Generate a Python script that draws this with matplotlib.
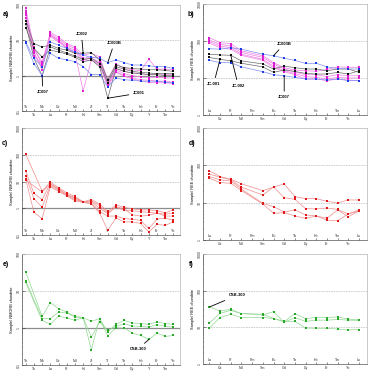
import numpy as np
import matplotlib.pyplot as plt

plt.rcParams['font.family'] = ['Liberation Sans', 'DejaVu Sans']

nan = np.nan

# elementos dos diagramas
morb_elements = ['Th', 'Ta', 'Nb', 'La', 'Ce', 'Pr', 'Nd', 'Hf', 'Zr', 'Sm',
                 'Ti', 'Gd', 'Tb', 'Dy', 'Ho', 'Y', 'Er', 'Tm', 'Yb']
ree_elements = ['La', 'Ce', 'Pr', 'Nd', 'Pm', 'Sm', 'Eu', 'Gd', 'Tb', 'Dy',
                'Ho', 'Er', 'Tm', 'Yb', 'Lu']

# --- a) N-MORB normalizado, grupo JC ---
a_m1 = [81, 6.5, 2.0, 17, 12.4, 8.1, 6.5, 3.8, 4.3, 3.4, 0.77, 2.2, 1.6, 1.47, 1.38, 2.9, 1.53, 1.53, 1.47]
a_m2 = [61, 5.3, 2.5, 15.3, 11.1, 7.3, 5.9, 3.1, 3.4, 3.1, 0.63, 1.6, 1.32, 1.19, 1.14, 1.07, 1.14, 1.07, 1.07]
a_m3 = [52, 4.3, 1.8, 14.3, 10.0, 6.5, 5.3, 2.8, 3.1, 2.5, 0.56, 1.47, 1.14, 1.0, 0.92, 0.86, 0.92, 0.86, 0.86]
a_m4 = [44, 3.6, 2.15, 12.9, 9.0, 6.2, 4.7, 2.5, 2.8, 2.2, 0.53, 1.32, 1.0, 0.86, 0.77, 0.74, 0.70, 0.70, 0.65]
a_m5 = [68, 4.7, 1.47, 13.8, 9.6, 5.9, 4.3, 0.37, 2.8, 2.0, 0.48, 1.24, 0.96, 0.81, 0.70, 0.65, 0.63, 0.63, 0.60]
a_jc002 = [36, 8.1, 6.5, 7.3, 5.9, 5.3, 4.3, 4.3, 4.5, 2.8, 0.77, 2.0, 1.7, 1.6, 1.53, 1.47, 1.47, 1.41, 1.32]
a_jc001 = [23, 5.9, 3.4, 5.3, 4.7, 4.1, 3.3, 2.5, 2.8, 1.8, 0.23, 1.6, 1.32, 1.19, 1.14, 1.07, 1.07, 1.0, 1.0]
a_jc007 = [29, 3.1, 1.0, 6.5, 5.3, 4.4, 3.6, 2.9, 3.1, 2.2, 0.63, 1.8, 1.53, 1.32, 1.24, 1.19, 1.14, 1.14, 1.14]
a_jc003b = [9.0, 3.1, 1.8, 9.0, 7.3, 5.9, 4.7, 3.8, 3.3, 3.1, 2.35, 2.8, 2.35, 2.0, 2.0, 1.9, 1.8, 1.8, 1.6]
a_b2 = [8.4, 2.2, 1.0, 4.3, 3.1, 2.8, 2.5, 1.8, 1.07, 1.07, 0.48, 0.86, 0.77, 0.74, 0.70, 0.70, 0.70, 0.65, 0.63]
a_colors = ['mag', 'mag', 'mag', 'mag', 'mag', 'blk', 'blk', 'blk', 'blu', 'blu']

# --- b) ETR condrito, grupo JC ---
b_m1 = [123, 90, 85, 54, nan, 40, 26, 19, 16.4, 15.7, 15.2, 17, 20, 19.5, 19.5]
b_m2 = [106, 81, 73, 49, nan, 36, 24, 17.5, 14.8, 12.3, 12.3, 10.9, 12.3, 11.5, 11.5]
b_m3 = [96, 73, 66, 44, nan, 32, 21, 15.7, 13.3, 10.9, 10.4, 9.4, 10.4, 10, 10]
b_m4 = [87, 66, 60, 41, nan, 30, 19, 14.8, 12.3, 9.4, 9.4, 8.5, 9.4, 8.8, 8.5]
b_jc002 = [44, 42, 41, 29, nan, 24, 17.5, 21, 19, 17.5, 17.5, 15.7, 17.5, 17.5, 14.2]
b_jc001 = [36, 32, 29, 25, nan, 20, 14.2, 16.4, 15, 13.3, 12.8, 12.8, 14.2, 12.8, 15.7]
b_jc003b = [62, 60, 66, 60, nan, 44, 40, 34, 30, 24.7, 25, 20, 18, 17.5, 17.5]
b_jc007 = [30, 26, 26, 20, nan, 14.8, 12.3, 11.5, 10.4, 9.4, 9.4, 8.8, 9.4, 8.5, 8.5]
b_colors = ['mag', 'mag', 'mag', 'mag', 'blk', 'blk', 'blu', 'blu']

# --- c) N-MORB normalizado, grupo vermelho ---
c_r1 = [106, nan, 4.4, 9.5, 5.9, 3.8, 2.75, 1.75, 2.1, 1.44, 0.76, 1.32, 1.09, 0.95, 0.87, 0.87, 0.82, 0.67, 0.87]
c_r2 = [25, 3.6, 2.1, 8.5, 5.1, 3.3, 2.3, 1.7, 1.75, 1.0, 0.62, 1.15, 0.95, 0.57, 0.51, 0.54, 0.67, 0.51, 0.51]
c_r3 = [16.6, 2.3, 1.09, 7.1, 4.7, 3.0, 2.1, 1.66, 1.57, 0.76, 0.51, 0.51, 0.41, 0.39, 0.35, 0.175, 0.39, 0.43, 0.35]
c_r4 = [12.5, 0.71, 0.41, 6.4, 4.2, 2.9, 1.9, 1.66, 1.44, 0.67, 0.15, 0.43, 0.31, 0.31, 0.27, 0.13, 0.25, 0.23, 0.31]
c_r5 = [11.2, nan, 4.1, 7.8, 5.4, 3.3, 2.5, 1.75, 1.9, 1.25, 0.67, 1.09, 0.85, 0.8, 0.75, 0.7, 0.65, 0.6, 0.65]

# --- d) ETR condrito, grupo vermelho ---
d_r1 = [71, 50, 42.5, 32, nan, 21, nan, 32, 14.5, 12.8, 12.8, 10.9, 9.8, 11.8, 11.8]
d_r2 = [58, 48, 41, 26, nan, 16, 26.4, 13.6, 12.3, 6.9, 6.8, 7.2, 6.6, 5.0, 6.0]
d_r3 = [50, 41, 38, 23, nan, 9.6, 7.8, 5.6, 6.4, 4.7, 4.4, 3.8, 6.4, 4.2, 6.0]
d_r4 = [45, 34.5, 33, 21, nan, 9.2, 5.2, 5.4, 4.4, 3.8, 4.4, 3.4, 3.3, 5.0, 6.4]

# --- e) N-MORB normalizado, grupo verde ---
e_g1 = [33, nan, 2.07, 4.8, 3.35, 2.7, 2.07, 1.91, 1.52, 1.79, 0.78, 1.26, 1.61, 1.37, 1.31, 1.26, 1.46, 1.31, 1.26]
e_g2 = [18.9, nan, 1.79, 1.79, 2.7, 2.55, 1.99, 1.91, 0.57, 1.46, 0.86, 1.11, 1.31, 1.13, 1.11, 1.06, 1.23, 1.11, 1.06]
e_csb300 = [17, nan, 1.61, 1.26, 2.1, 1.87, 1.61, 1.91, 0.26, 1.79, 0.61, 1.02, 1.0, 0.73, 0.63, 0.49, 0.73, 0.59, 0.63]

# --- f) ETR condrito, grupo verde ---
f_csb300 = [35.8, 27.9, 31, 23.7, nan, 22.8, 17.4, 14.2, 23.7, 17.4, 18.5, 18.5, 19.3, 16.7, 16]
f_g2 = [13.1, 24.2, 29, 23.7, nan, 21.8, 26.8, 13.6, 18.5, 14.5, 15.7, 15.7, 16.4, 15.7, 15.4]
f_g3 = [9.6, 18.5, 22.8, 18.5, nan, 18.5, 17.4, 14.5, 14.5, 9.6, 9.4, 9.4, 9.0, 8.5, 8.7]

# cor do marcador / cor da linha
MARK = {'mag': '#e01ed2', 'blu': '#1e3ce6', 'blk': '#111111',
        'red': '#e01a1a', 'grn': '#2aa82a'}
LINE = {'mag': '#f07ee6', 'blu': '#7f8ef2', 'blk': '#6a6a6a',
        'red': '#f08c8c', 'grn': '#92d892'}


def spider(ax, elements, samples, colors, ylim, ylabel, hlines, solid_one):
    x = np.arange(len(elements))
    for vals, c in zip(samples, colors):
        v = np.array(vals, dtype=float)
        ok = ~np.isnan(v)  # liga os pontos mesmo com elemento faltando
        ax.plot(x[ok], v[ok], '-', color=LINE[c], lw=0.5, zorder=2)
        ax.plot(x[ok], v[ok], 's', color=MARK[c], ms=1.9, mew=0, zorder=3)

    for h in hlines:
        ax.axhline(h, color='#c8c8c8', lw=0.6, ls=(0, (2, 1)), zorder=1)
    if solid_one:
        ax.axhline(1, color='#8c8c8c', lw=0.9, zorder=1)

    ax.set_yscale('log')
    ax.set_ylim(ylim)
    if len(elements) == 15:
        ax.set_xlim(-0.6, 14.75)
    else:
        ax.set_xlim(-0.45, 18.8)

    ax.set_xticks(x)
    ax.set_xticklabels(elements, fontsize=2.6)
    ax.tick_params(axis='x', direction='in', length=1.5, width=0.4, pad=1.2, colors='#333333')
    # rótulos alternados: pares dentro do gráfico, ímpares embaixo
    for i, tick in enumerate(ax.xaxis.get_major_ticks()):
        if i % 2 == 0:
            tick.set_pad(-1.2)
            tick.label1.set_verticalalignment('bottom')

    ax.tick_params(axis='y', which='major', direction='in', length=2, width=0.4,
                   labelsize=2.6, pad=1, labelrotation=90, colors='#333333')
    ax.tick_params(axis='y', which='minor', direction='in', length=1, width=0.3)
    for lab in ax.get_yticklabels():
        lab.set_verticalalignment('center')
    ax.yaxis.set_major_formatter(plt.FuncFormatter(lambda v, p: f'{v:g}'))

    ax.set_ylabel(ylabel, fontsize=2.8, labelpad=2)
    for s in ax.spines.values():
        s.set_color('#b4b4b4')
        s.set_linewidth(0.5)
    ax.spines['left'].set_color('#555555')
    ax.spines['bottom'].set_color('#555555')


fig = plt.figure(figsize=(3.75, 3.78), dpi=100)
W, H = 375.0, 378.0


def axes_px(left, top, right, bottom):
    return fig.add_axes([left / W, 1 - bottom / H, (right - left) / W, (bottom - top) / H])


ax_a = axes_px(22, 5, 180, 111)
ax_b = axes_px(203, 4, 367, 115)
ax_c = axes_px(22, 128, 180, 235)
ax_d = axes_px(203, 128, 367, 240)
ax_e = axes_px(22, 254, 180, 365)
ax_f = axes_px(203, 254, 367, 364)

morb_lab = 'Sample/ NMORB chondrite'
ree_lab = 'Sample/ REE chondrite'

spider(ax_a, morb_elements,
       [a_m1, a_m2, a_m3, a_m4, a_m5, a_jc002, a_jc001, a_jc007, a_jc003b, a_b2],
       a_colors, (0.1, 100), morb_lab, [10], True)
spider(ax_b, ree_elements,
       [b_m1, b_m2, b_m3, b_m4, b_jc002, b_jc001, b_jc003b, b_jc007],
       b_colors, (1, 1000), ree_lab, [10, 100], False)
spider(ax_c, morb_elements, [c_r1, c_r2, c_r3, c_r4, c_r5], ['red'] * 5,
       (0.1, 1000), morb_lab, [10, 100], True)
spider(ax_d, ree_elements, [d_r1, d_r2, d_r3, d_r4], ['red'] * 4,
       (1, 1000), ree_lab, [10, 100], False)
spider(ax_e, morb_elements, [e_g1, e_g2, e_csb300], ['grn'] * 3,
       (0.1, 100), morb_lab, [10], True)
spider(ax_f, ree_elements, [f_csb300, f_g2, f_g3], ['grn'] * 3,
       (1, 1000), ree_lab, [10, 100], False)

# anotações das amostras
arrow = dict(arrowstyle='-', lw=0.6, color='black', shrinkA=1, shrinkB=0)
note = dict(fontsize=3, fontweight='bold', ha='center', va='center', arrowprops=arrow)
ax_a.annotate('JC007', xy=(2, a_jc007[2]), xytext=(2.1, 0.34), **note)
ax_a.annotate('JC002', xy=(7, a_jc002[7]), xytext=(6.8, 15), **note)
ax_a.annotate('JC003B', xy=(10, a_jc003b[10]), xytext=(10.8, 8.5), **note)
ax_a.annotate('JC001', xy=(10, a_jc001[10]), xytext=(13.8, 0.32), **note)

ax_b.annotate('JC003B', xy=(6, b_jc003b[6]), xytext=(7.0, 83), **note)
ax_b.annotate('JC-001', xy=(1, b_jc001[1]), xytext=(0.4, 7), **note)
ax_b.annotate('JC-002', xy=(2, b_jc002[2]), xytext=(2.7, 6.2), **note)
ax_b.annotate('JC007', xy=(7, b_jc007[7]), xytext=(7.0, 3), **note)

ax_e.annotate('CSB-300', xy=(15, e_csb300[15]), xytext=(13.7, 0.27), **note)
ax_f.annotate('CSB-300', xy=(0, f_csb300[0]), xytext=(2.6, 75), **note)

# letras dos painéis
for lbl, (px, py) in zip(['a)', 'b)', 'c)', 'd)', 'e)', 'f)'],
                         [(6, 15), (191, 15), (5, 143), (192, 143), (6, 265), (191, 265)]):
    fig.text(px / W, 1 - py / H, lbl, fontsize=5, fontweight='bold', ha='center', va='center')

fig.savefig('out.png', dpi=100)
